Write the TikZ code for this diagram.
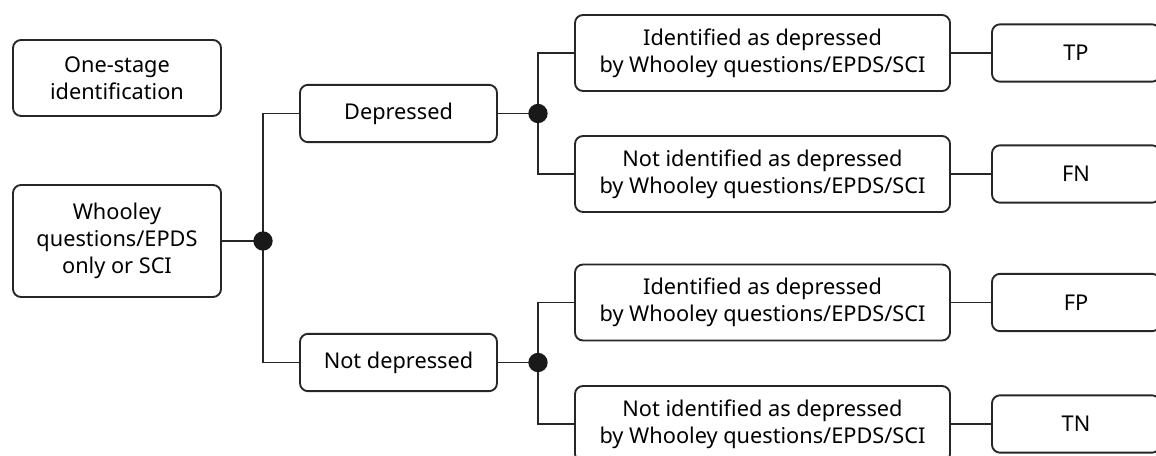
\documentclass[tikz,border=0pt]{standalone}
\usepackage{fontspec}
\setmainfont{Noto Sans}
\tikzset{
  box/.style={draw=black!85, line width=1.4pt, rounded corners=6pt, align=center,
    font=\fontsize{16.3}{20}\selectfont, inner sep=0pt},
  link/.style={draw=black!85, line width=1.3pt},
  dot/.style={circle, fill=black!90, minimum size=14.5pt, inner sep=0pt},
}
\begin{document}
\begin{tikzpicture}[x=0.75pt,y=-0.75pt]
\useasboundingbox (0,0) rectangle (1156,456);
\node[box,minimum width=156pt,minimum height=57pt] (onestage) at (117,78) {One-stage\\identification};
\node[box,minimum width=156pt,minimum height=84pt] (whooley) at (117,241) {Whooley\\questions/EPDS\\only or SCI};
\node[box,minimum width=147.75pt,minimum height=43pt] (dep) at (398.5,113.5) {Depressed};
\node[box,minimum width=147.75pt,minimum height=43pt] (notdep) at (398.5,362.5) {Not depressed};
\node[box,minimum width=281.25pt,minimum height=57pt] (id1) at (762.5,53) {Identified as depressed\\by Whooley questions/EPDS/SCI};
\node[box,minimum width=281.25pt,minimum height=57pt] (nid1) at (762.5,174) {Not identified as depressed\\by Whooley questions/EPDS/SCI};
\node[box,minimum width=281.25pt,minimum height=57pt] (id2) at (762.5,302.5) {Identified as depressed\\by Whooley questions/EPDS/SCI};
\node[box,minimum width=281.25pt,minimum height=57pt] (nid2) at (762.5,424) {Not identified as depressed\\by Whooley questions/EPDS/SCI};
\node[box,minimum width=126pt,minimum height=43pt] (tp) at (1076,53) {TP};
\node[box,minimum width=126pt,minimum height=43pt] (fn) at (1076,174) {FN};
\node[box,minimum width=126pt,minimum height=43pt] (fp) at (1076,302.5) {FP};
\node[box,minimum width=126pt,minimum height=43pt] (tn) at (1076,424) {TN};
\coordinate (j1) at (263,241);
\coordinate (j2) at (538,113.5);
\coordinate (j3) at (538,362.5);
\draw[link] (whooley.east) -- (j1);
\draw[link] (dep.west) -| (j1) |- (notdep.west);
\draw[link] (dep.east) -- (j2);
\draw[link] (notdep.east) -- (j3);
\draw[link] (id1.west) -| (j2) |- (nid1.west);
\draw[link] (id2.west) -| (j3) |- (nid2.west);
\draw[link] (id1.east) -- (tp.west);
\draw[link] (nid1.east) -- (fn.west);
\draw[link] (id2.east) -- (fp.west);
\draw[link] (nid2.east) -- (tn.west);
\node[dot] (d1) at (j1) {};
\node[dot] (d2) at (j2) {};
\node[dot] (d3) at (j3) {};
\end{tikzpicture}
\end{document}
